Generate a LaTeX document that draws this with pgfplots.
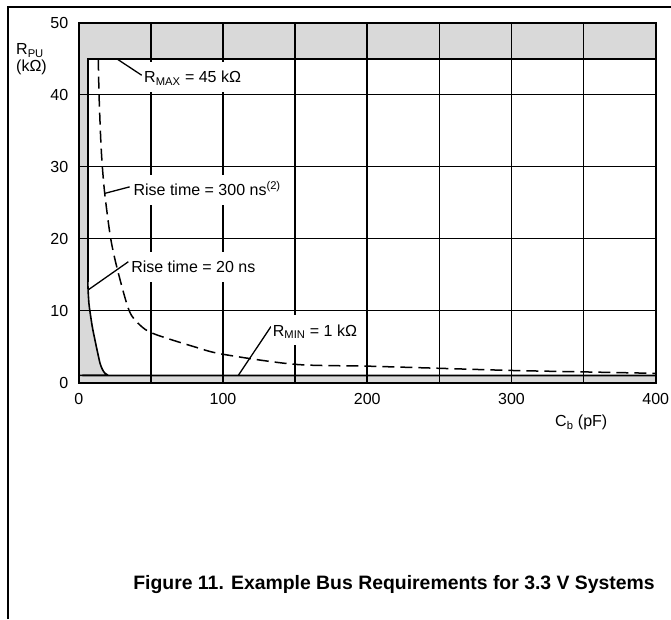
\documentclass[border=0pt]{standalone}
\usepackage{fontspec}
\setmainfont{Liberation Sans}
\usepackage{pgfplots}
\pgfplotsset{compat=1.18}
\definecolor{graybg}{RGB}{217,217,217}
\begin{document}
\fontsize{16}{19}\selectfont
\begin{tikzpicture}[x=1pt,y=1pt,
  lab/.style={fill=white, anchor=west, inner xsep=2pt, inner ysep=9pt, text height=12pt, text depth=0pt, xshift=-2pt},
  lead/.style={line width=1.3pt}]
\useasboundingbox (0,0) rectangle (671,619);
\draw[line width=1.2pt] (8,0) -- (8,612) -- (671,612);
\begin{axis}[
  at={(78.7pt,236.3pt)}, anchor=south west,
  scale only axis, width=577pt, height=360pt,
  xmin=0, xmax=400, ymin=0, ymax=50,
  xtick={0,50,...,400}, xticklabels={0,,100,,200,,300,,400},
  ytick={0,10,...,50},
  grid=major, grid style={black, line width=1.5pt},
  major tick length=0pt,
  axis line style={line width=1.8pt},
  axis on top,
  axis background/.style={fill=graybg},
  /pgf/number format/assume math mode=true,
  xticklabel style={yshift=-5pt},
  yticklabel style={xshift=-5pt},
]
\addplot[fill=white, draw=none] coordinates {(6.3,45) (400,45) (400,1) (22,1) (20,1.08) (18,1.35) (16.3,1.9) (14.8,2.7) (13.1,4.2) (11.3,5.9) (9.4,7.8) (7.8,9.9) (7.1,11) (6.6,12.5) (6.3,14)} --cycle;
\addplot[line width=1.6pt, sharp plot] coordinates {(400,45) (6.3,45) (6.3,14)};
\addplot[line width=1.6pt, smooth] coordinates {(6.3,14) (6.6,12.5) (7.1,11) (7.8,9.9) (9.4,7.8) (11.3,5.9) (13.1,4.2) (14.8,2.7) (16.3,1.9) (18,1.35) (20,1.08) (22,1) (400,1)};
\addplot[line width=1.5pt, smooth, dash pattern=on 12pt off 6pt] coordinates {(13.6,45) (14.1,40) (15.3,33.7) (16.4,30) (18.2,26) (22.2,20) (27,15.6) (35,10) (42.5,8.0) (52,6.8) (80,5.0) (100,3.95) (150,2.55) (200,2.3) (250,2.0) (300,1.7) (350,1.5) (400,1.3)};
\coordinate (rmaxA) at (axis cs:26.3,45);
\coordinate (rmaxB) at (axis cs:43.7,42.7);
\coordinate (rmaxT) at (axis cs:45.3,42.5);
\coordinate (r300A) at (axis cs:18.2,26.3);
\coordinate (r300B) at (axis cs:35.3,27.2);
\coordinate (r300T) at (axis cs:37.9,26.8);
\coordinate (r20A) at (axis cs:6.65,12.9);
\coordinate (r20B) at (axis cs:34.4,16.8);
\coordinate (r20T) at (axis cs:36.3,16.1);
\coordinate (rminA) at (axis cs:110.6,1);
\coordinate (rminB) at (axis cs:133.3,7.8);
\coordinate (rminT) at (axis cs:134.5,7.3);
\end{axis}
\draw[lead] (rmaxA) -- (rmaxB);
\draw[lead] (r300A) -- (r300B);
\draw[lead] (r20A) -- (r20B);
\draw[lead] (rminA) -- (rminB);
\node[lab] at (rmaxT) {R\textsubscript{MAX} = 45 kΩ};
\node[lab] at (r300T) {Rise time = 300 ns\textsuperscript{(2)}};
\node[lab] at (r20T) {Rise time = 20 ns};
\node[lab] at (rminT) {R\textsubscript{MIN} = 1 kΩ};
\node[anchor=base west, inner sep=0] at (16,564) {R\textsubscript{PU}};
\node[anchor=base west, inner sep=0] at (16,547.4) {(kΩ)};
\node[anchor=base west, inner sep=0] at (555,192.3) {C\textsubscript{b} (pF)};
\node[anchor=base east, inner sep=0, font=\fontsize{19.4}{23}\selectfont\bfseries] at (655,29.5) {Figure 11. Example Bus Requirements for 3.3 V Systems};
\end{tikzpicture}
\end{document}
